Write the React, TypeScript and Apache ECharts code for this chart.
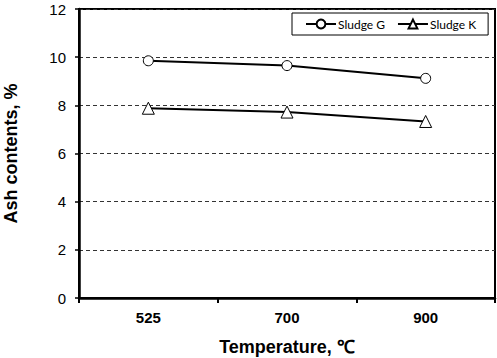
import React, { useEffect, useRef } from "react";
import * as echarts from "echarts";

const categories = ["525", "700", "900"];
const sludgeG = [9.85, 9.65, 9.12];
const sludgeK = [7.88, 7.72, 7.33];
const seriesNames = ["Sludge G", "Sludge K"];

export default function App() {
  const ref = useRef<HTMLDivElement>(null);
  useEffect(() => {
    if (!ref.current) return;
    const chart = echarts.init(ref.current, undefined, { renderer: "svg" });
    const font = "'Liberation Sans', Arial, sans-serif";
    chart.setOption({
      animation: false,
      backgroundColor: "#fff",
      grid: {
        left: 79,
        right: 2,
        top: 9,
        bottom: 60,
        containLabel: false,
        outerBoundsMode: "none",
        show: true,
        borderColor: "#000",
        borderWidth: 2,
        backgroundColor: "transparent",
      },
      legend: {
        data: seriesNames,
        orient: "horizontal",
        left: 292,
        top: 13,
        width: 200,
        padding: [5, 12, 5, 13],
        itemGap: 12,
        itemWidth: 30,
        itemHeight: 11,
        borderColor: "#000",
        borderWidth: 1,
        backgroundColor: "#fff",
        borderRadius: 0,
        textStyle: { fontFamily: "Lato, sans-serif", fontSize: 12, color: "#000", padding: [0, 0, 0, -3] },
      },
      xAxis: {
        type: "category",
        data: categories,
        boundaryGap: true,
        name: "Temperature, ℃",
        nameLocation: "middle",
        nameGap: 40,
        nameTextStyle: { fontFamily: font, fontSize: 18, fontWeight: "bold", color: "#000" },
        axisLine: { lineStyle: { color: "#000", width: 2.5 } },
        axisTick: { show: true, length: 5, lineStyle: { color: "#000", width: 2 } },
        axisLabel: { fontFamily: font, fontSize: 15, fontWeight: "bold", color: "#000", margin: 12 },
        splitLine: { show: false },
      },
      yAxis: {
        type: "value",
        min: 0,
        max: 12,
        interval: 2,
        name: "Ash contents, %",
        nameLocation: "middle",
        nameGap: 59,
        nameTextStyle: { fontFamily: font, fontSize: 18, fontWeight: "bold", color: "#000" },
        axisLine: { show: true, lineStyle: { color: "#000", width: 2.5 } },
        axisTick: { show: true, length: 4, lineStyle: { color: "#000", width: 1.5 } },
        axisLabel: { fontFamily: font, fontSize: 15, color: "#000", margin: 13 },
        splitLine: { show: true, lineStyle: { color: "#333", width: 1, type: [4, 3] } },
      },
      series: [
        {
          name: seriesNames[0],
          type: "line",
          data: sludgeG,
          symbol: "circle",
          symbolSize: 10,
          lineStyle: { color: "#000", width: 2 },
          itemStyle: { color: "#fff", borderColor: "#000", borderWidth: 1 },
        },
        {
          name: seriesNames[1],
          type: "line",
          data: sludgeK,
          symbol: "triangle",
          symbolSize: 12,
          lineStyle: { color: "#000", width: 2 },
          itemStyle: { color: "#fff", borderColor: "#000", borderWidth: 1 },
        },
      ],
    });
    return () => chart.dispose();
  }, []);
  return <div ref={ref} style={{ width: 497, height: 358, position: "absolute", left: 0, top: 0 }} />;
}
